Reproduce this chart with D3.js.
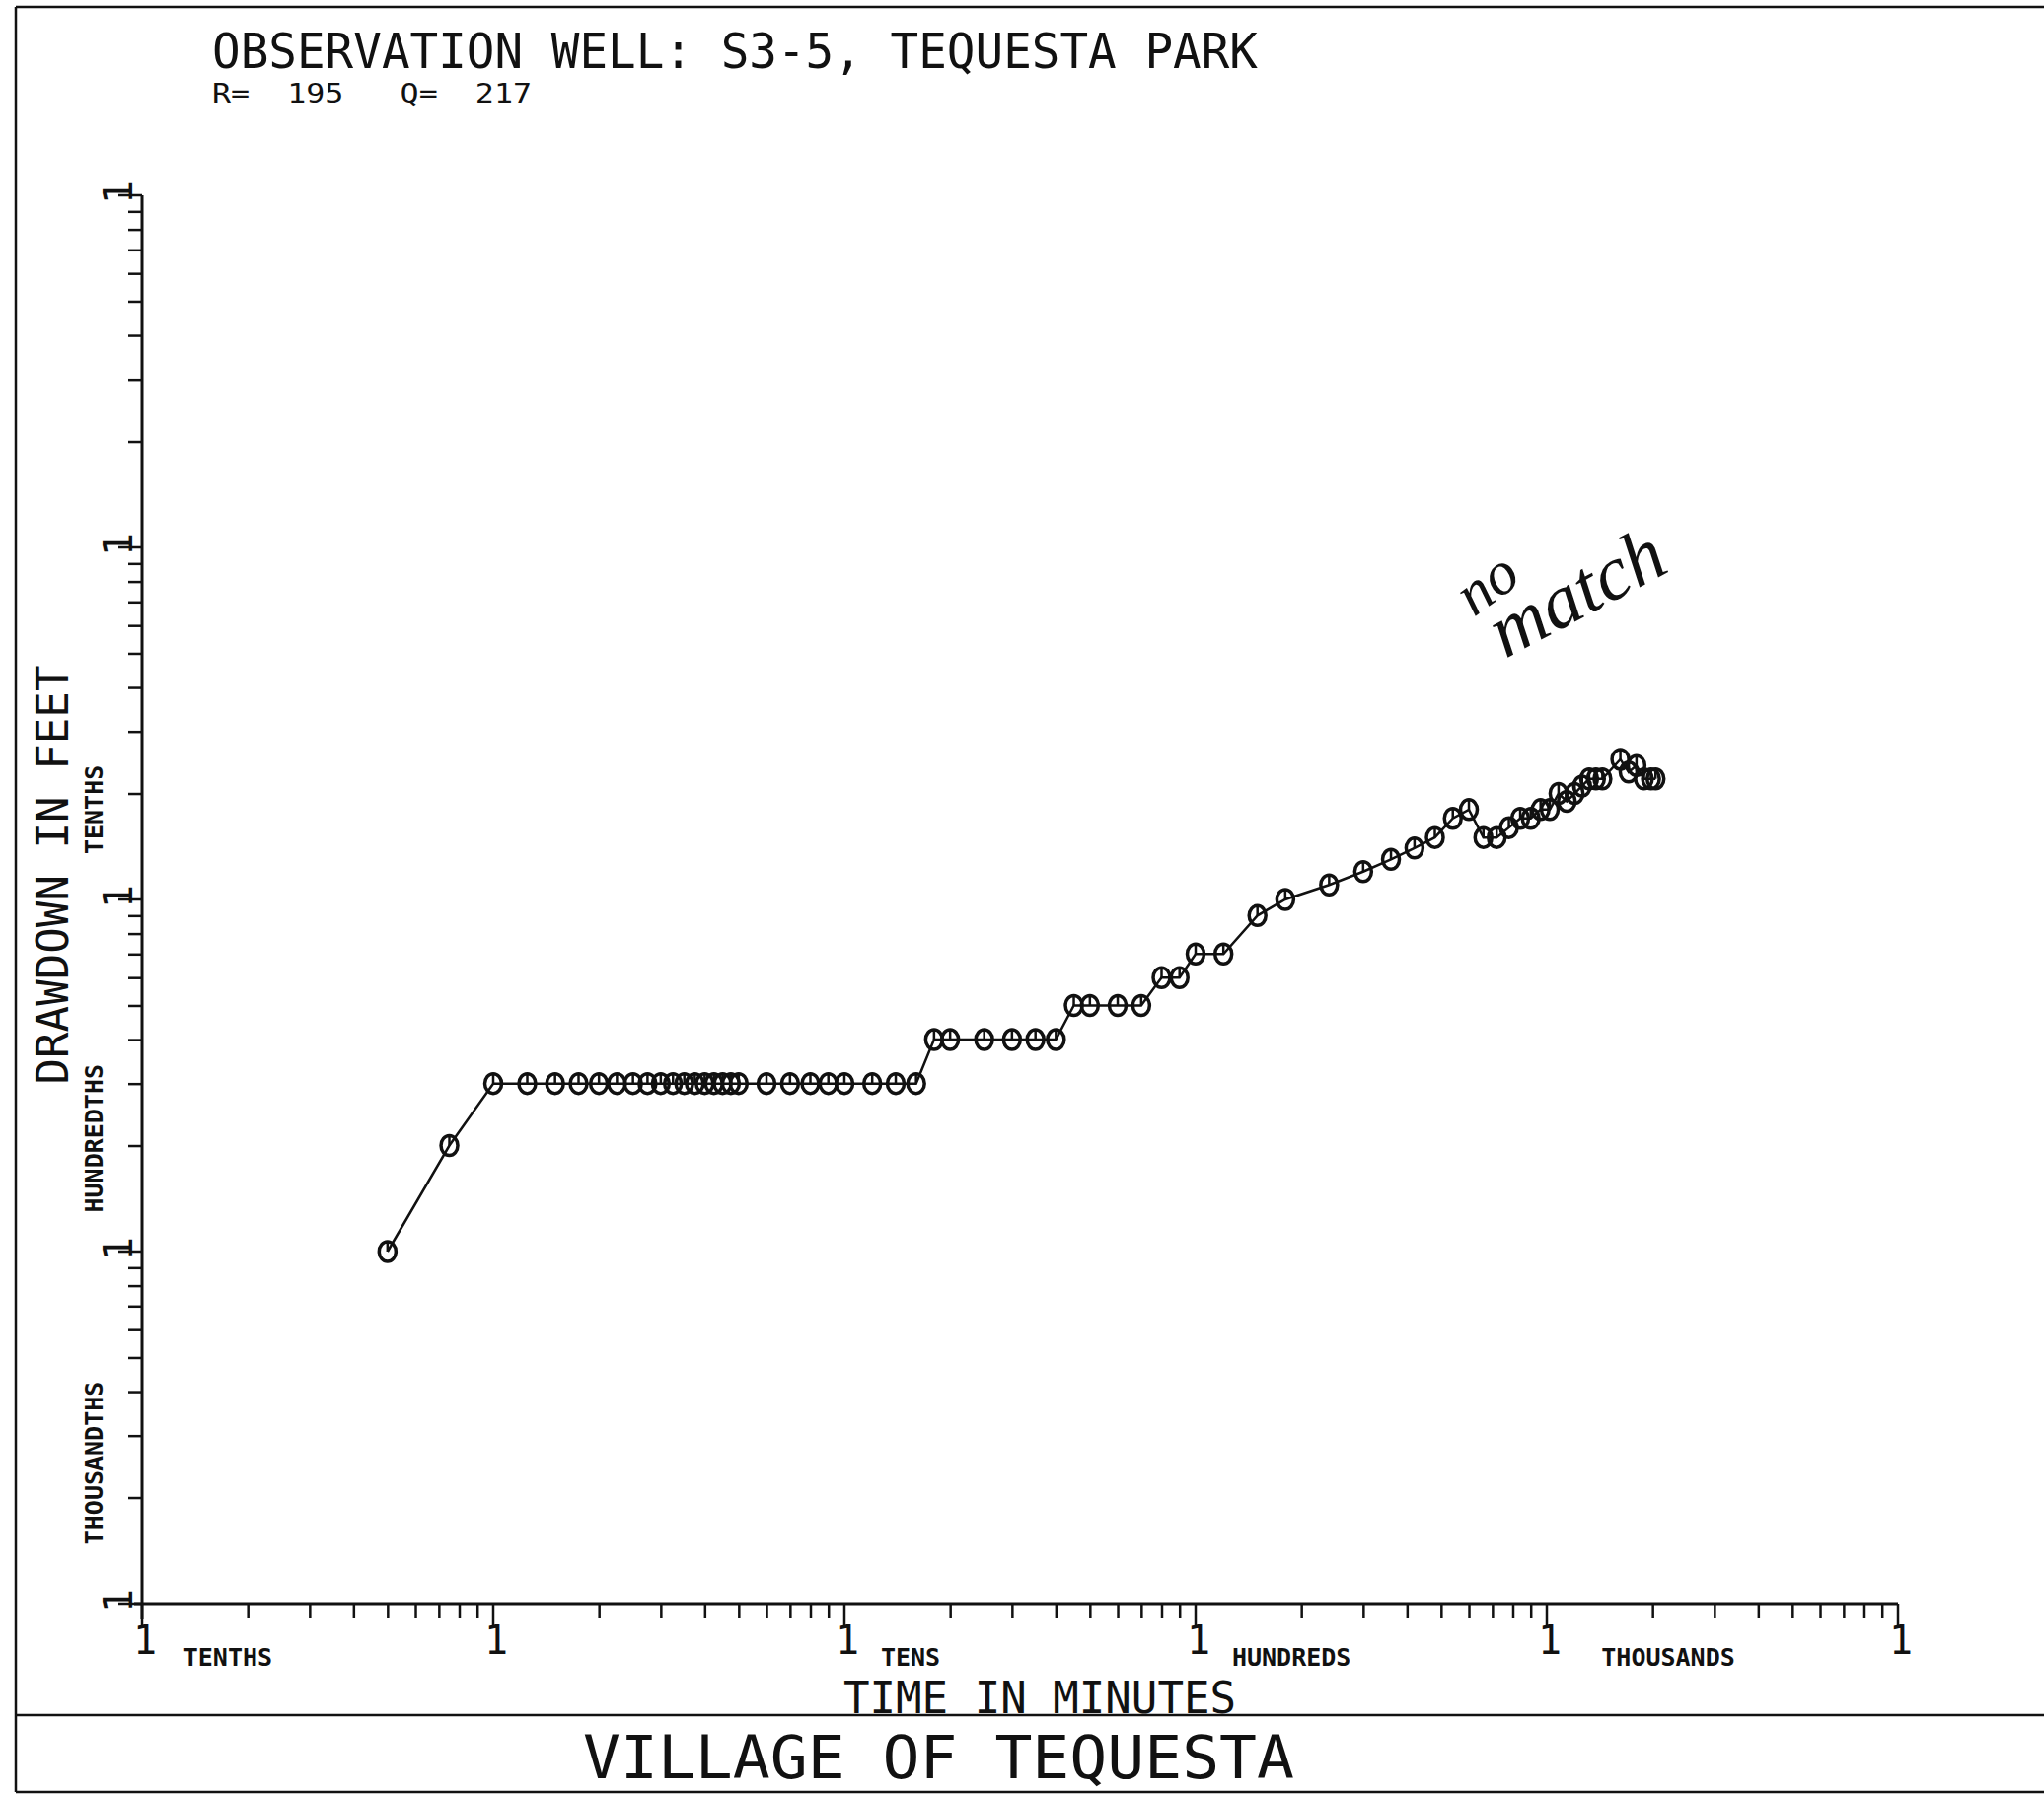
<!DOCTYPE html>
<html>
<head>
<meta charset="utf-8">
<script src="https://cdn.jsdelivr.net/npm/d3@7"></script>
<style>
  html, body { margin: 0; padding: 0; background: #fff; }
  svg { display: block; }
  text { font-family: 'DejaVu Sans Mono', 'Liberation Mono', monospace; fill: #111; }
</style>
</head>
<body>
<svg id="chart" width="2072" height="1819"></svg>
<script>
// Elapsed time since pumping began (minutes)
const timeMinutes = [
  0.5, 0.75,
  1, 1.25, 1.5, 1.75, 2, 2.25, 2.5, 2.75, 3, 3.25, 3.5, 3.75, 4, 4.25, 4.5, 4.75, 5,
  6, 7, 8, 9, 10, 12, 14, 16,
  18, 20, 25, 30, 35, 40,
  45, 50, 60, 70,
  80, 90,
  100, 120,
  150, 180, 240, 300, 360, 420, 480, 540, 600,
  660, 720, 780, 840, 900, 960, 1020, 1080, 1140, 1200, 1260,
  1320, 1380, 1440, 1620, 1710, 1800, 1890, 1980, 2040
];
// Measured drawdown (feet)
const drawdownFeet = [
  0.01, 0.02,
  0.03, 0.03, 0.03, 0.03, 0.03, 0.03, 0.03, 0.03, 0.03, 0.03, 0.03, 0.03, 0.03, 0.03, 0.03, 0.03, 0.03,
  0.03, 0.03, 0.03, 0.03, 0.03, 0.03, 0.03, 0.03,
  0.04, 0.04, 0.04, 0.04, 0.04, 0.04,
  0.05, 0.05, 0.05, 0.05,
  0.06, 0.06,
  0.07, 0.07,
  0.09, 0.10, 0.11, 0.12, 0.13, 0.14, 0.15, 0.17, 0.18,
  0.15, 0.15, 0.16, 0.17, 0.17, 0.18, 0.18, 0.20, 0.19, 0.20, 0.21,
  0.22, 0.22, 0.22, 0.25, 0.23, 0.24, 0.22, 0.22, 0.22
];

// Decade marks and the range names written beside them
const xDecades = [0.1, 1, 10, 100, 1000, 10000];
const yDecades = [0.001, 0.01, 0.1, 1, 10];
const xRangeNames = ["TENTHS", "TENS", "HUNDREDS", "THOUSANDS"];
const xRangeAnchors = [0.131, 12.7, 127, 1430];
const yRangeNames = ["TENTHS", "HUNDREDTHS", "THOUSANDTHS"];
const yRangeAnchors = [0.1345, 0.0129, 0.00147];

const titleText = "OBSERVATION WELL: S3-5, TEQUESTA PARK";
const paramText = "R=  195   Q=  217";
const yTitle = "DRAWDOWN IN FEET";
const xTitle = "TIME IN MINUTES";
const footerText = "VILLAGE OF TEQUESTA";

const svg = d3.select("#chart");

const x = d3.scaleLog().domain([0.1, 10000]).range([144, 1924]);
const y = d3.scaleLog().domain([0.001, 10]).range([1626, 198]);

const isDecade = v => Math.abs(Math.log10(v) - Math.round(Math.log10(v))) < 1e-9;

// ---- page frame ----
const frame = svg.append("g").attr("stroke", "#111").attr("stroke-width", 2.5).attr("fill", "none");
frame.append("line").attr("x1", 16).attr("y1", 7).attr("x2", 2072).attr("y2", 7);
frame.append("line").attr("x1", 16).attr("y1", 7).attr("x2", 16).attr("y2", 1817);
frame.append("line").attr("x1", 16).attr("y1", 1739).attr("x2", 2072).attr("y2", 1739);
frame.append("line").attr("x1", 16).attr("y1", 1817).attr("x2", 2072).attr("y2", 1817);

// ---- headings ----
svg.append("text").attr("x", 215).attr("y", 69)
  .attr("font-size", 49).attr("textLength", 1060).attr("lengthAdjust", "spacingAndGlyphs")
  .text(titleText);
svg.append("text").attr("x", 215).attr("y", 104)
  .attr("font-size", 27).attr("textLength", 324).attr("lengthAdjust", "spacingAndGlyphs")
  .attr("xml:space", "preserve").style("white-space", "pre")
  .text(paramText);

// ---- x axis ----
const xMinor = x.ticks().filter(v => !isDecade(v));
const gx = svg.append("g").attr("transform", `translate(0,${y(0.001)})`)
  .call(d3.axisBottom(x).tickValues(xMinor).tickSize(15).tickSizeOuter(0).tickFormat(""));
gx.select(".domain").remove();
gx.selectAll(".tick line").attr("stroke", "#111").attr("stroke-width", 2.5);
svg.append("line").attr("x1", 136).attr("x2", x(10000))
  .attr("y1", y(0.001)).attr("y2", y(0.001))
  .attr("stroke", "#111").attr("stroke-width", 3);

const xDec = svg.append("g").selectAll("g").data(xDecades).join("g")
  .attr("transform", d => `translate(${x(d)},${y(0.001)})`);
xDec.append("line").attr("x1", 0).attr("x2", 0).attr("y1", 0).attr("y2", 22)
  .attr("stroke", "#111").attr("stroke-width", 2.5);
xDec.append("text").attr("x", 3).attr("y", 51).attr("text-anchor", "middle")
  .attr("font-size", 40).text("1");

svg.append("g").selectAll("text").data(xRangeNames).join("text")
  .attr("x", (d, i) => x(xRangeAnchors[i]))
  .attr("y", 1689)
  .attr("font-size", 25).attr("font-weight", "bold")
  .text(d => d);

// ---- y axis ----
const yMinor = y.ticks().filter(v => !isDecade(v));
const gy = svg.append("g").attr("transform", `translate(${x(0.1)},0)`)
  .call(d3.axisLeft(y).tickValues(yMinor).tickSize(14).tickSizeOuter(0).tickFormat(""));
gy.select(".domain").remove();
gy.selectAll(".tick line").attr("stroke", "#111").attr("stroke-width", 2.5);
svg.append("line").attr("x1", x(0.1)).attr("x2", x(0.1))
  .attr("y1", y(10)).attr("y2", 1642)
  .attr("stroke", "#111").attr("stroke-width", 3);

const yDec = svg.append("g").selectAll("g").data(yDecades).join("g")
  .attr("transform", d => `translate(${x(0.1)},${y(d)})`);
yDec.append("line").attr("x1", 0).attr("x2", -24).attr("y1", 0).attr("y2", 0)
  .attr("stroke", "#111").attr("stroke-width", 2.5);
yDec.append("text").attr("transform", "translate(-10,-3) rotate(-90)")
  .attr("text-anchor", "middle").attr("font-size", 40).text("1");

svg.append("g").selectAll("text").data(yRangeNames).join("text")
  .attr("transform", (d, i) => `translate(104,${y(yRangeAnchors[i])}) rotate(-90)`)
  .attr("font-size", 25).attr("font-weight", "bold")
  .text(d => d);

// ---- axis titles ----
svg.append("text").attr("transform", "translate(69,887) rotate(-90)")
  .attr("text-anchor", "middle").attr("font-size", 44)
  .attr("textLength", 425).attr("lengthAdjust", "spacingAndGlyphs")
  .text(yTitle);
svg.append("text").attr("x", 855).attr("y", 1737)
  .attr("font-size", 44).attr("textLength", 398).attr("lengthAdjust", "spacingAndGlyphs")
  .text(xTitle);
svg.append("text").attr("x", 591).attr("y", 1803)
  .attr("font-size", 60).attr("textLength", 721).attr("lengthAdjust", "spacingAndGlyphs")
  .text(footerText);

// ---- drawdown curve ----
const pts = timeMinutes.map((t, i) => ({ t, s: drawdownFeet[i] }));
svg.append("path").datum(pts)
  .attr("fill", "none").attr("stroke", "#111").attr("stroke-width", 2.5)
  .attr("d", d3.line().x(d => x(d.t)).y(d => y(d.s)));

const marks = svg.append("g").selectAll("g").data(pts).join("g")
  .attr("transform", d => `translate(${x(d.t)},${y(d.s)})`);
marks.append("ellipse").attr("rx", 8.5).attr("ry", 10)
  .attr("fill", "none").attr("stroke", "#111").attr("stroke-width", 3.5);
marks.append("line").attr("x1", 0).attr("x2", 0).attr("y1", -9.5).attr("y2", 0)
  .attr("stroke", "#111").attr("stroke-width", 2.5);

// ---- handwritten note ----
const note = svg.append("g").attr("font-style", "italic");
note.append("text").attr("transform", "translate(1494,626) rotate(-36)")
  .attr("font-size", 62).style("font-family", "'Liberation Serif', serif").text("no");
note.append("text").attr("transform", "translate(1526,668) rotate(-28)")
  .attr("font-size", 78).style("font-family", "'Liberation Serif', serif").text("match");
</script>
</body>
</html>
